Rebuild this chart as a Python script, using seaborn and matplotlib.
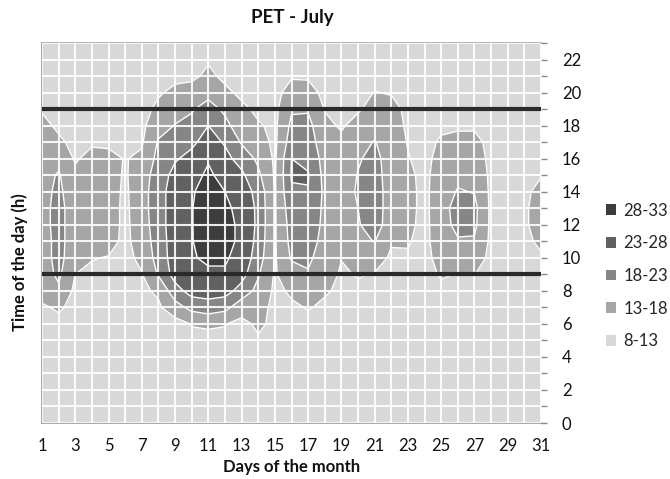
import numpy as np
import matplotlib
matplotlib.use("Agg")
import matplotlib.pyplot as plt
import seaborn as sns
from matplotlib.patches import Patch

# ---- data: PET value (deg C) for each day of July, hourly (hour 0..23) ----
days = list(range(1, 32))
hours = list(range(0, 24))

d01 = [10,10,10,10,10.5,11,11.5,12.5,14.5,15.5,16,16,16.5,16.5,16.5,16,15.5,15,14.5,12.5,11.5,11,10.5,10]
d02 = [10,10,10,10,10.5,11,12,13.5,17,19,19.5,19.5,19.5,19.5,19,18.5,16.5,14,12,11,11,10.5,10,10]
d03 = [10,10,10,10,10.5,11,11.5,12,12,13,15,15.5,15.5,15.5,15,14,12.5,11.5,11,11,10.5,10.5,10,10]
d04 = [10,10,10,10,10.5,11,11.5,12,12,12.2,13.2,15,15.5,15.5,15.5,15,14.4,12.4,11.5,11,10.5,10.5,10,10]
d05 = [10,10,10,10,10.5,11,11.5,12,12,12.3,12.8,14.5,15,15,15,14.8,14.2,12.2,11.5,11,10.5,10.5,10,10]
d06 = [10,10,10,10,10.5,11,11.5,11.5,11.5,11.5,11.8,12,12,12,12.2,12.5,12.8,12.3,11.5,11,10.5,10.5,10,10]
d07 = [10,10,10,10,10.5,11,11.5,12,12.2,12.8,14,15,15.5,16,16,15.5,13.8,12.5,12,11.5,11,10.5,10,10]
d08 = [10,10,10,10,10.5,11,11.5,12.3,13.7,18.5,20,20.5,21,21,21,20.5,19.5,18.5,16,14,12.5,11.5,11,10.5]
d09 = [10,10,10.5,10.5,10.8,11,11.2,16,21,25,25.5,25.5,25.5,25.5,25.5,24.5,22.5,20,18.2,16,14,12,11,10.5]
d10 = [10,10,10.5,10.5,11,12,13.2,19.5,25,26.5,27.5,27.8,27.8,27.8,27.5,26,24.5,22,19.5,17.5,15,12,11,10.5]
d11 = [10,10,10.5,10.5,11,12,13.5,21,25,27,29,30,30.5,30.5,30,29,27.5,25,23,20,16.5,14,12.5,11.5]
d12 = [10,10,10.5,10.5,11,12,13.2,19.5,25,27.5,28.5,29.5,29.5,29,28,26,24.5,22.5,19.5,17,14,12,11,10.5]
d13 = [10,10,10.5,10.5,11,11.5,11.8,15,21,25,26.5,27,27,26.5,25.5,24,21,17.5,15,14,12,11.5,11,10.5]
d14 = [10,10,10.5,10.5,11.5,12.5,13.8,14.5,16.5,18.5,20.5,21.5,22,22,21.5,19,17,15,13.5,12,11.5,11,10.5,10]
d15 = [10,10,10.5,10.5,11,11.5,12,12,12.2,12.5,12.5,12.5,12.5,12.5,12.5,12.5,12.3,12,12,11.8,11.5,11,10.5,10]
d16 = [10,10,10.5,10.5,11,11.5,12,12.5,13.5,16,18.5,19.5,20,21,22.5,23.4,23,20.5,19,17.5,15,12.5,11.5,11]
d17 = [10,10,10.5,10.5,11,11.5,12.2,13.2,15,17.5,19,20,20.5,21.5,22.8,23.3,22,20.5,19.5,17.5,14.5,12.5,11.5,11]
d18 = [10,10,10.5,10.5,11,11.5,12,12.5,13.3,14.5,15.5,16.5,17,17,17,16.5,16,15,14,12.8,12,11.5,11,10.5]
d19 = [10,10,10.5,10.5,11,11.5,12,12.3,12.5,12.6,13.1,14.5,15.5,16,16,15.5,15,14,12.5,12,11.5,11,10.5,10]
d20 = [10,10,10.5,10.5,11,11.5,12,12.3,12.5,13.2,15,16.5,17.5,18,18.5,18.2,17.5,16,14.5,12.5,12,11.5,11,10.5]
d21 = [10,10,10.5,10.5,11,11.5,12,12.3,12.5,12.8,14.5,18.2,21,21,20.5,20,19.5,18.3,16,14.5,13.1,12,11.5,11]
d22 = [10,10,10.5,10.5,11,11.5,12,12.2,12.3,12.5,12.5,13.3,14.5,15,15.5,15.5,15.5,15,14.5,14,12.8,12,11.5,11]
d23 = [10,10,10.5,10.5,11,11.5,12,12,12.2,12.3,12.6,13.3,14,14.3,14.3,14,13.2,12.8,12.5,12.3,12,11.5,11,10.5]
d24 = [10,10,10.5,10.5,11,11.5,12,12,12,12,11.8,11.8,11.8,11.8,11.8,11.8,11.8,11.8,12,11.8,11.5,11,10.5,10]
d25 = [10,10,10.5,10.5,11,11.5,12,12,12.3,13.3,14.5,15.5,15.8,16,16,15.5,14.5,13.5,12.3,12,11.5,11,10.5,10]
d26 = [10,10,10.5,10.5,11,11.5,12,12,12.3,12.9,15.5,17.5,19.5,20,18.3,17,15.5,14,12.5,12,11.5,11,10.5,10]
d27 = [10,10,10.5,10.5,11,11.5,12,12,12.3,13.05,15,17.5,19,19.3,17.8,16.5,15,14,12.5,12,11.5,11,10.5,10]
d28 = [10,10,10.5,10.5,11,11.5,12,12,12,12,12,12,12,12,12,12,12,12,12,11.8,11.5,11,10.5,10]
d29 = [10,10,10.5,10.5,11,11.5,11.8,12,12,12,12,12,12,12,12,12,12,12,11.8,11.5,11.5,11,10.5,10]
d30 = [10,10,10.5,10.5,11,11.5,12,12,12,12,12.2,12.3,12.3,12.3,12.3,12.2,12,12,12,11.8,11.5,11,10.5,10]
d31 = [10,10,10.5,10.5,11,11.5,12,12,12,12.3,12.6,13.6,15,15,14,12.8,12.3,12,12,11.8,11.5,11,10.5,10]

day_columns = [d01, d02, d03, d04, d05, d06, d07, d08, d09, d10, d11, d12, d13, d14, d15, d16,
               d17, d18, d19, d20, d21, d22, d23, d24, d25, d26, d27, d28, d29, d30, d31]

levels = [8, 13, 18, 23, 28, 33]
range_labels = ["8-13", "13-18", "18-23", "23-28", "28-33"]
shades = ["#d8d8d8", "#a6a6a6", "#868686", "#616161", "#3d3d3d"]
limit_hours = [9, 19]

Z = np.array(day_columns, dtype=float).T   # rows = hours, cols = days

sns.set_style("white")
plt.rcParams['font.family'] = ['Lato', 'DejaVu Sans']

W, H = 670, 479
fig = plt.figure(figsize=(W / 100, H / 100), dpi=100)
ax = fig.add_axes([42 / W, 56 / H, (541 - 42) / W, (436 - 56) / H])

ax.contourf(days, hours, Z, levels=levels, colors=shades, zorder=1)
ax.contour(days, hours, Z, levels=levels[1:-1], colors="white", linewidths=1.0, zorder=2)

ax.set_xlim(1, 31)
ax.set_ylim(0, 23)

ax.set_xticks(days[::2])
ax.set_xticks(days, minor=True)
ax.set_yticks(hours[::2])
ax.set_yticks(hours, minor=True)

ax.set_axisbelow(False)
ax.grid(which="both", color="white", linewidth=1.5, alpha=0.9, zorder=3)

for h in limit_hours:
    ax.axhline(h, color="#2a2a2a", linewidth=3.0, zorder=4)

ax.yaxis.tick_right()
ax.tick_params(axis="x", which="both", length=4, width=1, color="#8a8a8a",
               direction="out", pad=7, labelsize=12, labelcolor="#111111")
ax.tick_params(axis="y", which="both", length=4, width=1, color="#8a8a8a",
               direction="out", pad=11, labelsize=12, labelcolor="#111111",
               left=False, right=True)

for side in ["left", "bottom"]:
    ax.spines[side].set_color("#9a9a9a")
    ax.spines[side].set_linewidth(1.2)
ax.spines["top"].set_color("#a8a8a8")
ax.spines["top"].set_linewidth(1.2)
ax.spines["right"].set_visible(False)

fig.text(292 / W, 1 - 18 / H, "PET - July", ha="center", va="center",
         fontsize=13.5, fontweight="bold", color="#111111")
fig.text(292 / W, 1 - 467 / H, "Days of the month", ha="center", va="center",
         fontsize=12, fontweight="bold", color="#111111")
fig.text(20 / W, 1 - 262 / H, "Time of the day (h)", ha="center", va="center",
         rotation=90, fontsize=12, fontweight="bold", color="#111111")

handles = [Patch(facecolor=c, edgecolor="none") for c in shades[::-1]]
fig.legend(handles, range_labels[::-1], loc="center left",
           bbox_to_anchor=(591 / W, 1 - 276 / H), frameon=False,
           handlelength=0.6, handleheight=0.6, handletextpad=0.45,
           labelspacing=1.0, fontsize=12)

fig.savefig("out.png", dpi=100)
